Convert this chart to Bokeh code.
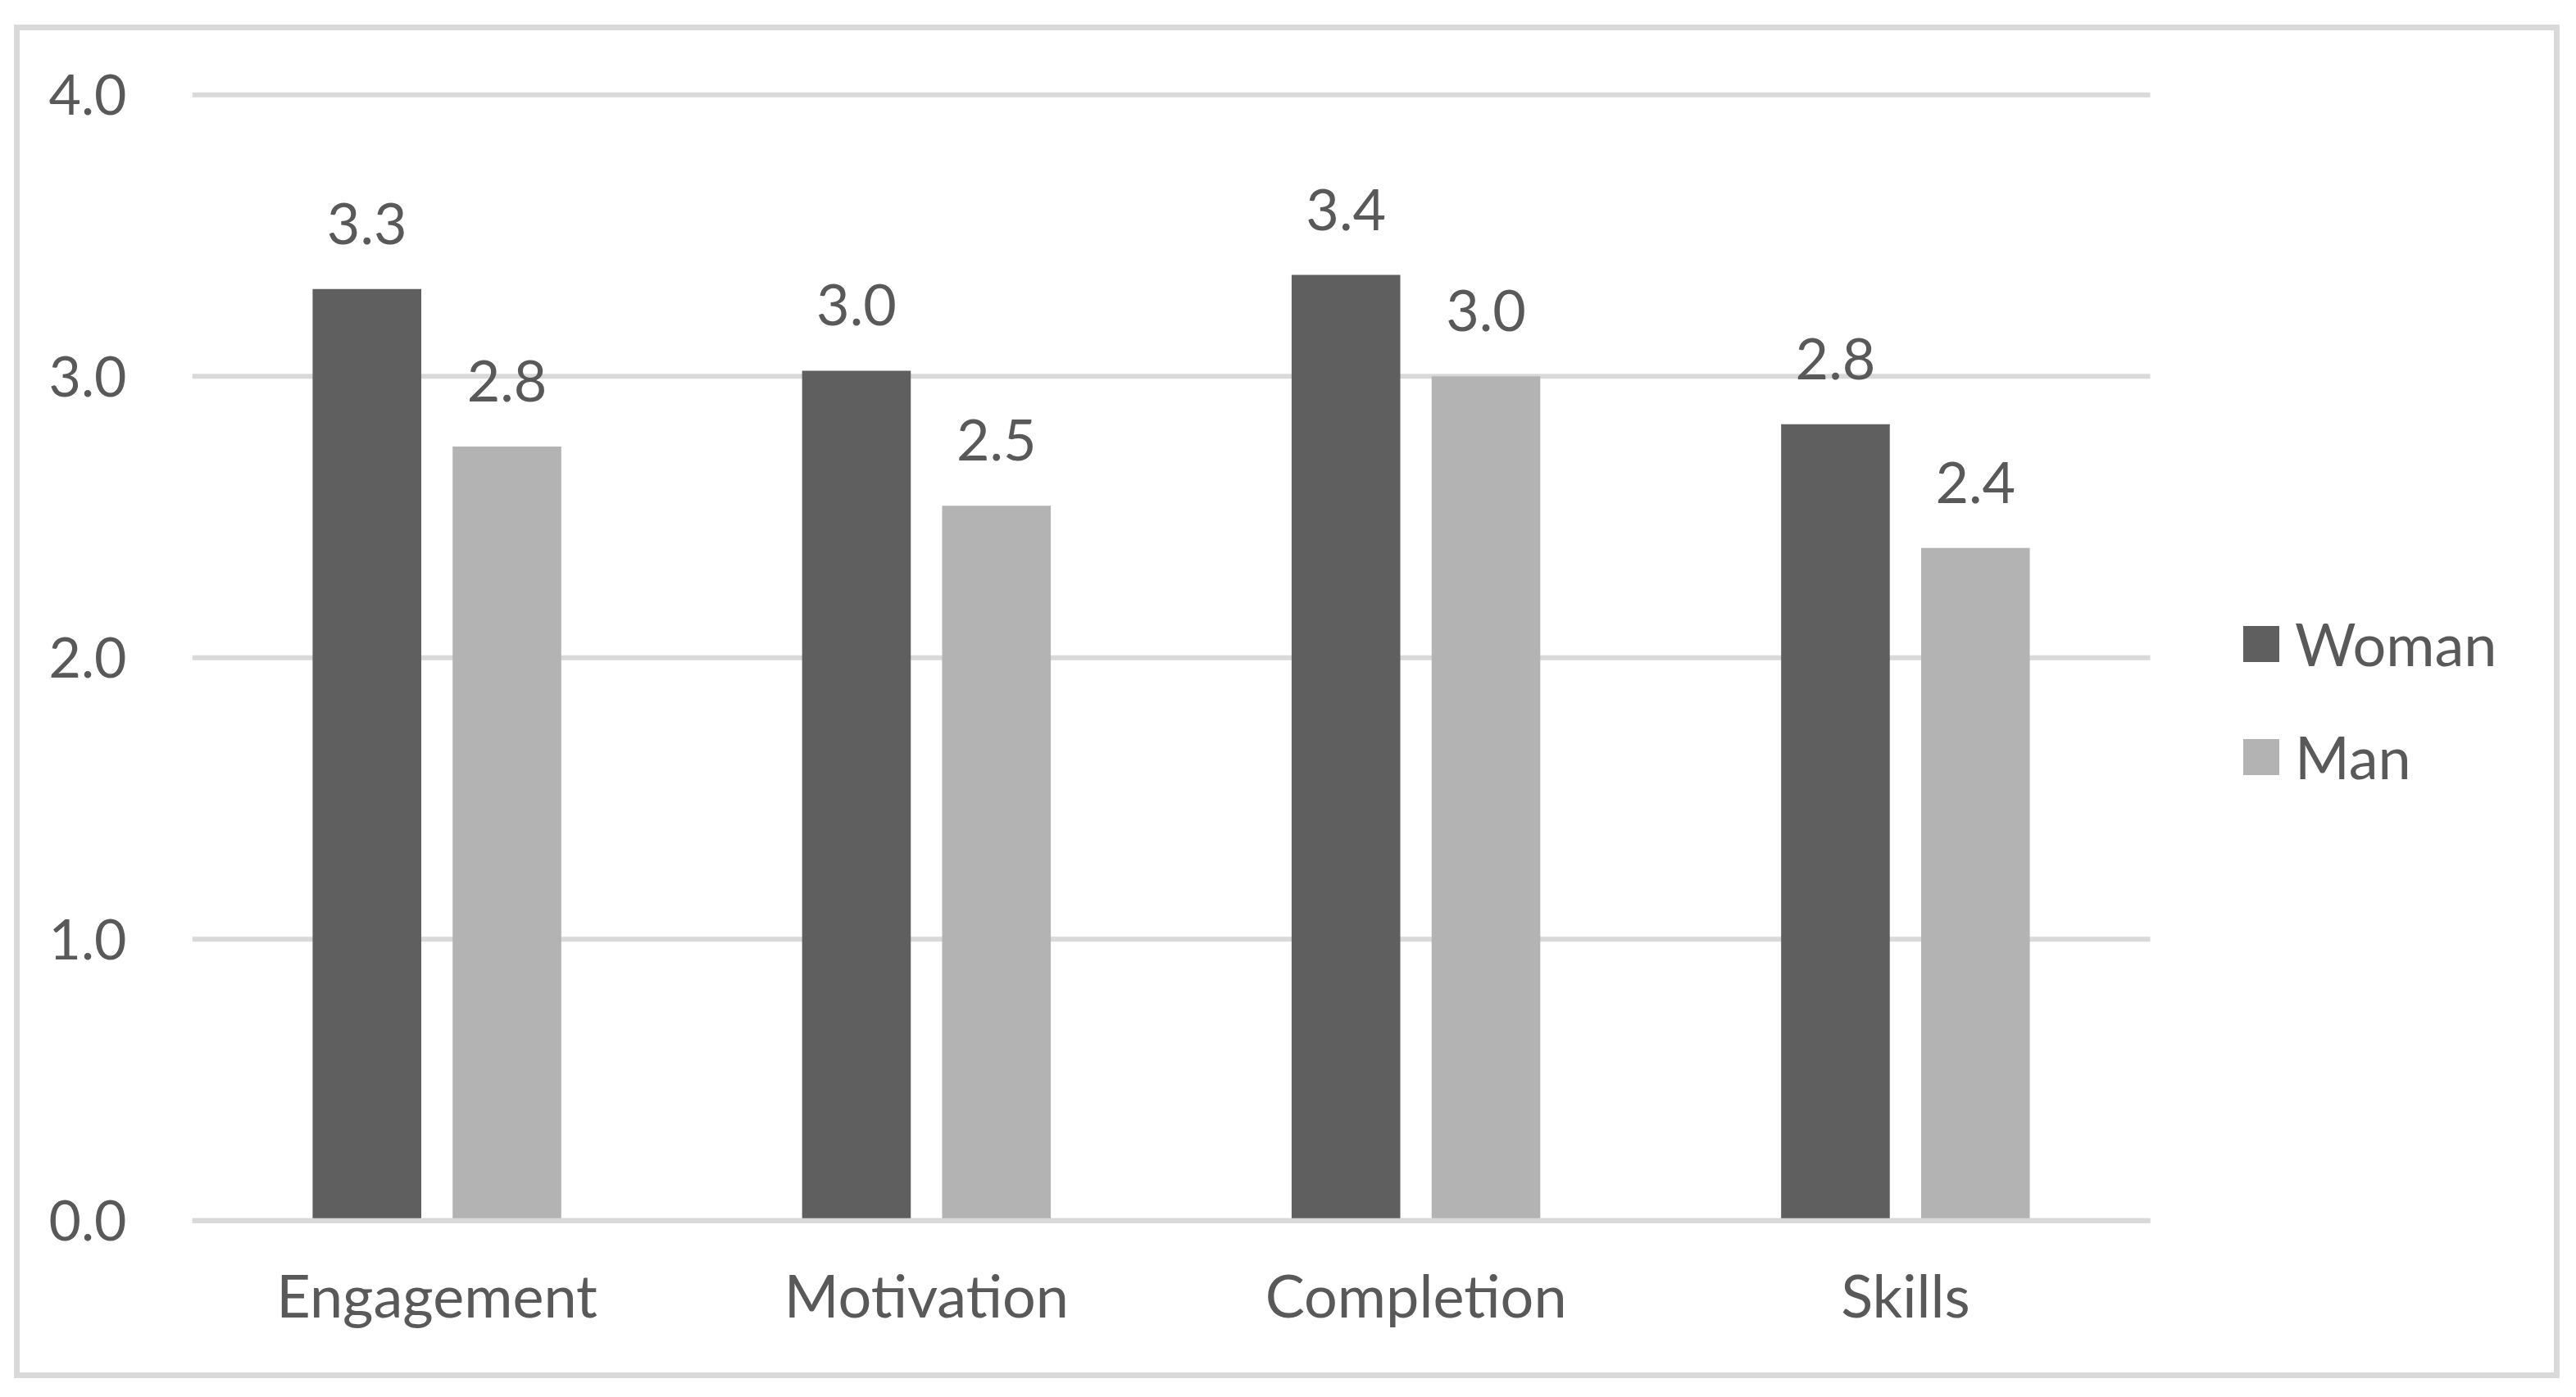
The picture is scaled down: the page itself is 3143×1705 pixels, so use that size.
from bokeh.plotting import figure
from bokeh.models import (Range1d, ColumnDataSource, Legend, LegendItem, NumeralTickFormatter,
                          Spacer, FixedTicker)
from bokeh.layouts import row, column
from bokeh.transform import dodge
from bokeh.core.properties import value
from bokeh.embed import file_html
from bokeh.resources import INLINE

categories = ["Engagement", "Motivation", "Completion", "Skills"]
series_names = ["Woman", "Man"]
woman = [3.31, 3.02, 3.36, 2.83]
man = [2.75, 2.54, 3.00, 2.39]
woman_labels = ["3.3", "3.0", "3.4", "2.8"]
man_labels = ["2.8", "2.5", "3.0", "2.4"]
y_ticks = [0.0, 1.0, 2.0, 3.0, 4.0]

C_WOMAN = "#5f5f5f"
C_MAN = "#b3b3b3"
C_TEXT = "#595959"
C_GRID = "#d9d9d9"
FONT = "Lato"
FS = "68px"

n = len(categories)
cat_pos = [i + 0.5 for i in range(n)]
src = ColumnDataSource(dict(xc=cat_pos, woman=woman, man=man,
                            wl=woman_labels, ml=man_labels))
grid_src = ColumnDataSource(dict(y=y_ticks, x0=[0] * len(y_ticks), x1=[n] * len(y_ticks)))
base_src = ColumnDataSource(dict(y=y_ticks[:1], x0=[0], x1=[n]))

FRAME_W = 2882
GROUP_W = 2389  # pixel width of the four category slots
p = figure(x_range=Range1d(0, n * FRAME_W / GROUP_W), y_range=Range1d(-0.02, 4.03),
           frame_width=FRAME_W, frame_height=1391, output_backend="svg", toolbar_location=None,
           min_border_left=210, min_border_right=0, min_border_top=68,
           min_border_bottom=179)

# horizontal gridlines (only across the category area)
p.segment(x0="x0", y0="y", x1="x1", y1="y", source=grid_src,
          line_color=C_GRID, line_width=6)

r_w = p.vbar(x=dodge("xc", -0.143), top="woman", bottom=0, width=0.222,
             source=src, fill_color=C_WOMAN, line_color=None)
r_m = p.vbar(x=dodge("xc", 0.143), top="man", bottom=0, width=0.222,
             source=src, fill_color=C_MAN, line_color=None)

# baseline on top of the bars
p.segment(x0="x0", y0="y", x1="x1", y1="y", source=base_src,
          line_color=C_GRID, line_width=6)

p.text(x=dodge("xc", -0.143), y="woman", text="wl", source=src,
       text_font=value(FONT), text_font_size="70px", text_color=C_TEXT,
       text_align="center", text_baseline="alphabetic", y_offset=-80)
p.text(x=dodge("xc", 0.143), y="man", text="ml", source=src,
       text_font=value(FONT), text_font_size="70px", text_color=C_TEXT,
       text_align="center", text_baseline="alphabetic", y_offset=-80)

p.yaxis.ticker = FixedTicker(ticks=y_ticks)
p.yaxis.formatter = NumeralTickFormatter(format="0.0")
p.xaxis.ticker = FixedTicker(ticks=cat_pos)
p.xaxis.major_label_overrides = {pos: name for pos, name in zip(cat_pos, categories)}

for ax in [p.xaxis[0], p.yaxis[0]]:
    ax.axis_line_color = None
    ax.major_tick_line_color = None
    ax.minor_tick_line_color = None
    ax.major_label_text_font = FONT
    ax.major_label_text_font_size = FS
    ax.major_label_text_color = C_TEXT
p.xaxis.major_label_text_font_size = "72px"
p.yaxis.major_label_standoff = 74
p.xaxis.major_label_standoff = 34

p.xgrid.grid_line_color = None
p.ygrid.grid_line_color = None
p.outline_line_color = None
p.background_fill_color = "white"
p.border_fill_color = "white"

legend = Legend(items=[LegendItem(label=series_names[0], renderers=[r_w]),
                       LegendItem(label=series_names[1], renderers=[r_m])],
                location=(2497, 530), orientation="vertical")
legend.glyph_width = 55
legend.glyph_height = 55
legend.label_text_font = FONT
legend.label_text_font_size = "72px"
legend.label_text_color = C_TEXT
legend.label_standoff = 14
legend.spacing = 52
legend.padding = 0
legend.margin = 0
legend.border_line_color = None
legend.background_fill_alpha = 0
p.add_layout(legend, "center")

box = column(p, width=3106, height=1652,
             styles={"border": "7px solid #d9d9d9", "overflow": "hidden",
                     "box-sizing": "border-box", "background-color": "white"})
layout = row(Spacer(width=17), column(Spacer(height=30), box))
open("out.html", "w").write(file_html(layout, INLINE))
